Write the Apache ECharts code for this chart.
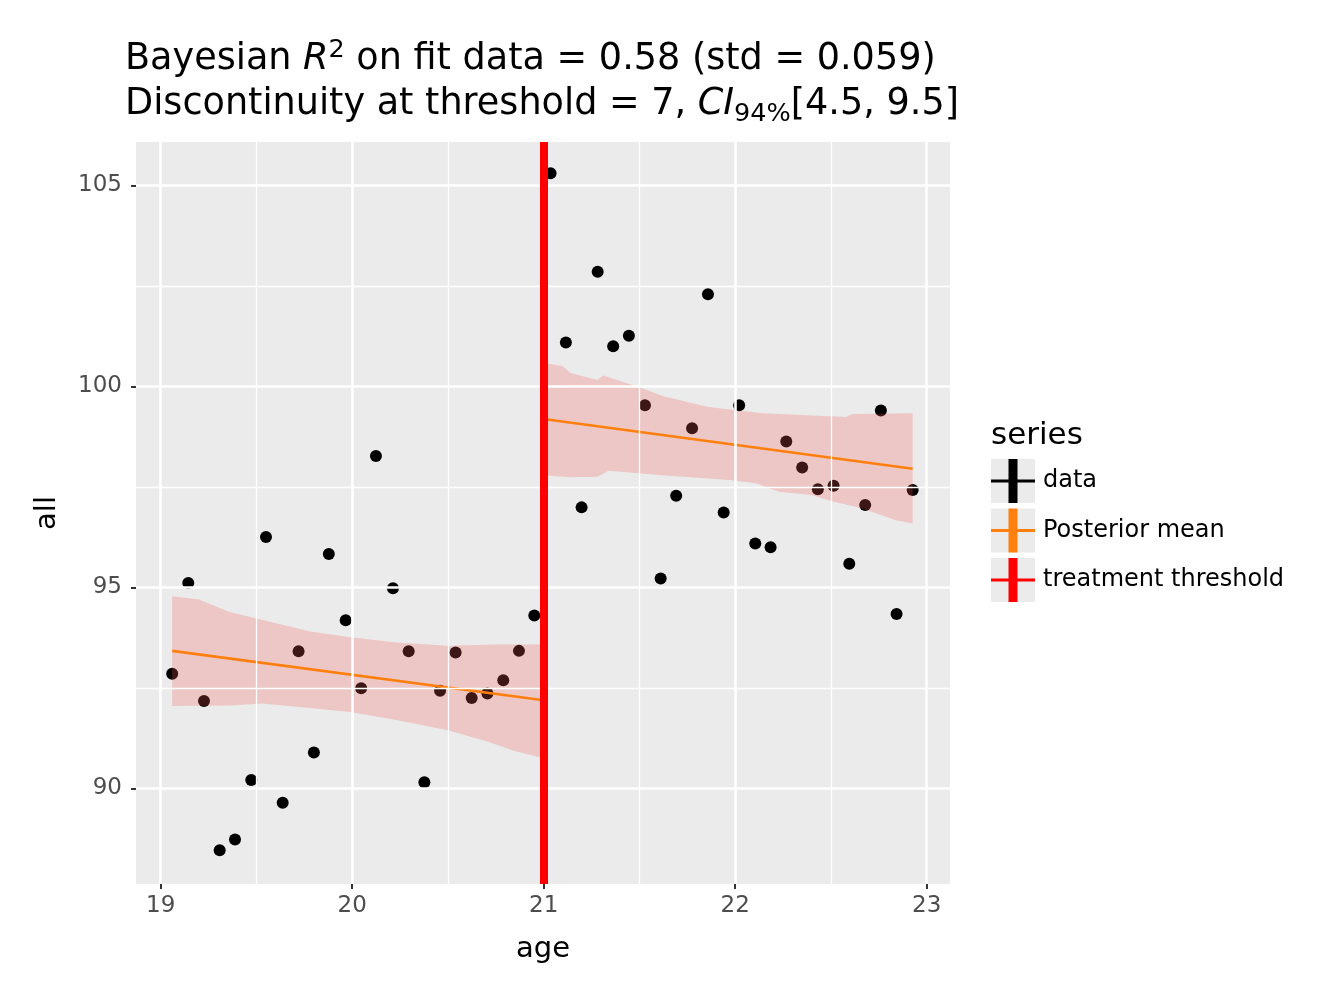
<!DOCTYPE html>
<html>
<head>
<meta charset="utf-8">
<script src="https://cdn.jsdelivr.net/npm/echarts@6/dist/echarts.min.js"></script>
<style>
  html, body { margin: 0; padding: 0; background: #fff; }
  #chart { width: 1320px; height: 999px; }
</style>
</head>
<body>
<div id="chart"></div>
<script>
// observed data (age vs all)
const age = [19.06, 19.144, 19.226, 19.308, 19.388, 19.473, 19.55, 19.637, 19.72, 19.80, 19.878, 19.966,
  20.047, 20.124, 20.213, 20.295, 20.377, 20.459, 20.54, 20.624, 20.706, 20.789, 20.871, 20.951,
  21.036, 21.116, 21.198, 21.282, 21.363, 21.445, 21.529, 21.611, 21.692, 21.775, 21.858, 21.94,
  22.021, 22.105, 22.185, 22.267, 22.35, 22.432, 22.514, 22.596, 22.679, 22.761, 22.843, 22.927];
const all = [92.85, 95.11, 92.17, 88.46, 88.73, 90.21, 96.25, 89.64, 93.41, 90.89, 95.83, 94.18,
  92.49, 98.27, 94.98, 93.41, 90.15, 92.43, 93.38, 92.25, 92.36, 92.69, 93.42, 94.30,
  105.30, 101.09, 96.99, 102.85, 101.00, 101.26, 99.53, 95.22, 97.28, 98.96, 102.29, 96.86,
  99.53, 96.09, 96.00, 98.63, 97.98, 97.44, 97.53, 95.59, 97.05, 99.40, 94.34, 97.42];

// posterior mean (two straight segments)
const meanLeftAge = [19.06, 21.0];
const meanLeftVal = [93.42, 92.19];
const meanRightAge = [21.0, 22.927];
const meanRightVal = [99.19, 97.95];

// 94% band edges, left of threshold
const bandLeftHiAge = [19.06, 19.2, 19.36, 19.49, 19.78, 19.99, 20.23, 20.5, 20.755, 21.0];
const bandLeftHi = [94.78, 94.70, 94.39, 94.24, 93.9, 93.76, 93.63, 93.55, 93.58, 93.58];
const bandLeftLoAge = [19.06, 19.36, 19.53, 19.78, 19.99, 20.23, 20.495, 20.71, 20.84, 21.0];
const bandLeftLo = [92.05, 92.06, 92.11, 92.0, 91.9, 91.7, 91.45, 91.16, 90.94, 90.75];
// 94% band edges, right of threshold
const bandRightHiAge = [21.0, 21.10, 21.14, 21.28, 21.31, 21.5, 21.62, 21.86, 22.14, 22.49, 22.58, 22.61, 22.927];
const bandRightHi = [100.59, 100.50, 100.33, 100.16, 100.27, 99.98, 99.76, 99.49, 99.33, 99.26, 99.24, 99.31, 99.33];
const bandRightLoAge = [21.0, 21.137, 21.28, 21.34, 21.62, 21.97, 22.11, 22.23, 22.4, 22.49, 22.66, 22.84, 22.927];
const bandRightLo = [97.79, 97.74, 97.75, 97.9, 97.79, 97.67, 97.59, 97.38, 97.3, 97.16, 96.97, 96.67, 96.59];

const threshold = 21;
const xTicks = [19, 20, 21, 22, 23];
const yTicks = [90, 95, 100, 105];
const xMin = 18.871, xMax = 23.122;
const yMin = 87.62, yMax = 106.08;

const font = 'DejaVu Sans';
const bandColor = 'rgba(245,90,85,0.25)';

const chart = echarts.init(document.getElementById('chart'));

function pairs(xs, ys) {
  return xs.map((x, i) => [x, ys[i]]);
}

function bandSeries(hiAge, hi, loAge, lo) {
  return {
    type: 'custom',
    name: 'band',
    z: 3,
    silent: true,
    data: pairs(hiAge, hi).concat(pairs(loAge, lo)),
    encode: { x: 0, y: 1 },
    renderItem: function (params, api) {
      if (params.dataIndex !== 0) return null;
      const pts = [];
      for (let i = 0; i < hiAge.length; i++) pts.push(api.coord([hiAge[i], hi[i]]));
      for (let i = loAge.length - 1; i >= 0; i--) pts.push(api.coord([loAge[i], lo[i]]));
      return { type: 'polygon', shape: { points: pts }, style: { fill: bandColor } };
    }
  };
}

// grid lines (major + minor, ggplot style)
const gridLines = [];
xTicks.forEach(v => gridLines.push({ xAxis: v, lineStyle: { width: 2.6 } }));
yTicks.forEach(v => gridLines.push({ yAxis: v, lineStyle: { width: 2.6 } }));
for (let i = 0; i < xTicks.length - 1; i++) {
  gridLines.push({ xAxis: (xTicks[i] + xTicks[i + 1]) / 2, lineStyle: { width: 1.3 } });
}
for (let i = 0; i < yTicks.length - 1; i++) {
  gridLines.push({ yAxis: (yTicks[i] + yTicks[i + 1]) / 2, lineStyle: { width: 1.3 } });
}

const crossIcon = 'path://M17.5,0 h9 v20.5 h17.5 v3 h-17.5 v20.5 h-9 v-20.5 h-17.5 v-3 h17.5 z';

chart.setOption({
  animation: false,
  backgroundColor: '#ffffff',
  textStyle: { fontFamily: font },
  title: [{
    left: 125,
    top: 37,
    padding: 0,
    text: 'Bayesian {i|R}{sup|2} on fit data = 0.58 (std = 0.059)\n' +
          'Discontinuity at threshold = 7, {i|CI}{sub|94%}[4.5, 9.5]',
    textStyle: {
      fontFamily: font, fontSize: 36.6, fontWeight: 'normal', color: '#000', lineHeight: 45,
      rich: {
        i: { fontFamily: font, fontSize: 36.6, fontStyle: 'italic', color: '#000', lineHeight: 45 },
        sup: { fontFamily: font, fontSize: 25.5, color: '#000', lineHeight: 28, verticalAlign: 'top' },
        sub: { fontFamily: font, fontSize: 25.5, color: '#000', lineHeight: 34, verticalAlign: 'bottom' }
      }
    }
  }, {
    left: 991,
    top: 420,
    padding: 0,
    text: 'series',
    textStyle: { fontFamily: font, fontSize: 31, fontWeight: 'normal', color: '#000' }
  }],
  legend: {
    orient: 'vertical',
    left: 991,
    top: 459,
    padding: 0,
    itemWidth: 44,
    itemHeight: 44,
    itemGap: 5.5,
    icon: crossIcon,
    data: ['data', 'Posterior mean', 'treatment threshold'],
    textStyle: { fontFamily: font, fontSize: 24, color: '#000', padding: [0, 0, 0, 3] },
    selectedMode: false,
    z: 5
  },
  graphic: [0, 1, 2].map(i => ({
    type: 'rect',
    left: 991,
    top: 459 + i * 49.5,
    z: 0,
    shape: { width: 44, height: 44 },
    style: { fill: '#ebebeb' }
  })),
  grid: {
    left: 136,
    top: 142,
    width: 814,
    height: 742,
    show: true,
    backgroundColor: '#ebebeb',
    borderWidth: 0
  },
  xAxis: {
    type: 'value',
    min: xMin,
    max: xMax,
    name: 'age',
    nameLocation: 'middle',
    nameGap: 51,
    nameTextStyle: { fontFamily: font, fontSize: 29, color: '#000' },
    axisLine: { show: false },
    axisTick: { show: true, length: 5, lineStyle: { color: '#333', width: 2 }, customValues: xTicks },
    axisLabel: { fontFamily: font, fontSize: 23, color: '#4d4d4d', margin: 11, customValues: xTicks },
    splitLine: { show: false }
  },
  yAxis: {
    type: 'value',
    min: yMin,
    max: yMax,
    name: 'all',
    nameLocation: 'middle',
    nameRotate: 90,
    nameGap: 74,
    nameTextStyle: { fontFamily: font, fontSize: 29, color: '#000' },
    axisLine: { show: false },
    axisTick: { show: true, length: 5, lineStyle: { color: '#333', width: 2 }, customValues: yTicks },
    axisLabel: { fontFamily: font, fontSize: 23, color: '#4d4d4d', margin: 14, customValues: yTicks },
    splitLine: { show: false }
  },
  series: [
    {
      type: 'line',
      name: 'gridlines',
      data: [],
      z: 1,
      silent: true,
      markLine: {
        silent: true,
        symbol: ['none', 'none'],
        label: { show: false },
        animation: false,
        lineStyle: { color: '#ffffff', type: 'solid' },
        data: gridLines
      }
    },
    {
      type: 'scatter',
      name: 'data',
      data: pairs(age, all),
      symbolSize: 12,
      itemStyle: { color: '#000000', opacity: 1 },
      z: 2
    },
    bandSeries(bandLeftHiAge, bandLeftHi, bandLeftLoAge, bandLeftLo),
    bandSeries(bandRightHiAge, bandRightHi, bandRightLoAge, bandRightLo),
    {
      type: 'line',
      name: 'Posterior mean',
      data: pairs(meanLeftAge, meanLeftVal),
      showSymbol: false,
      itemStyle: { color: '#ff7f0e' },
      lineStyle: { color: '#ff7f0e', width: 2.6 },
      z: 4
    },
    {
      type: 'line',
      name: 'Posterior mean',
      data: pairs(meanRightAge, meanRightVal),
      showSymbol: false,
      itemStyle: { color: '#ff7f0e' },
      lineStyle: { color: '#ff7f0e', width: 2.6 },
      z: 4
    },
    {
      type: 'line',
      name: 'treatment threshold',
      data: [],
      itemStyle: { color: '#ff0000' },
      lineStyle: { color: '#ff0000' },
      z: 5,
      markLine: {
        silent: true,
        symbol: ['none', 'none'],
        label: { show: false },
        animation: false,
        lineStyle: { color: '#ff0000', width: 8, type: 'solid' },
        data: [{ xAxis: threshold }]
      }
    }
  ]
});
</script>
</body>
</html>
